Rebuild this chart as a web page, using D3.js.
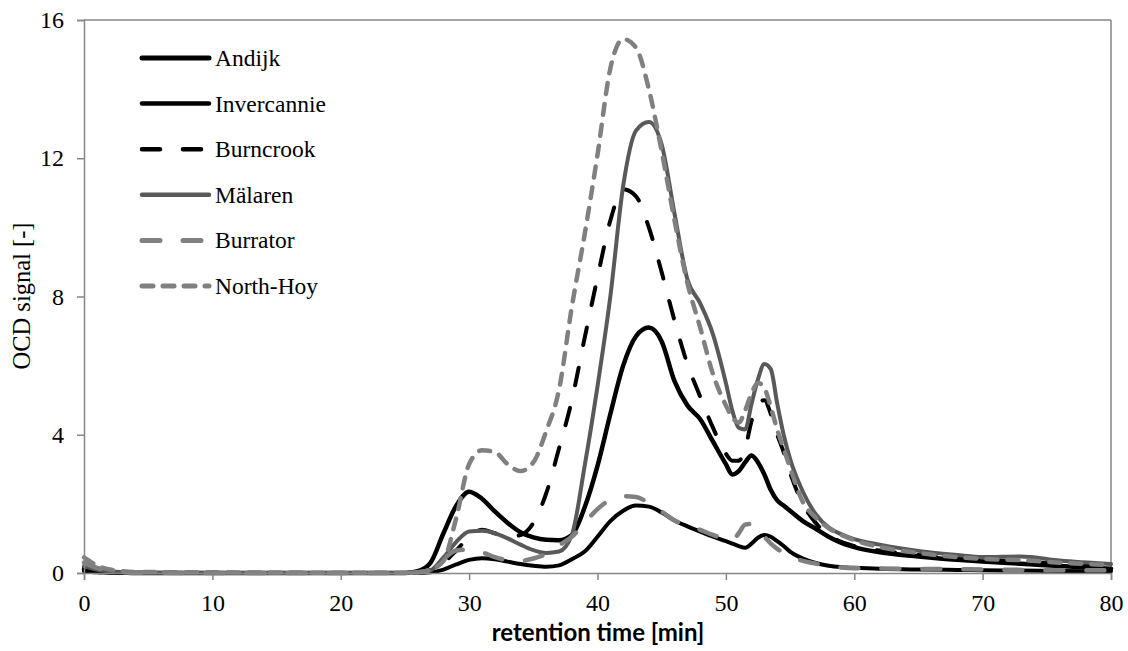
<!DOCTYPE html>
<html>
<head>
<meta charset="utf-8">
<script src="https://cdn.jsdelivr.net/npm/d3@7"></script>
<style>
  html, body { margin: 0; padding: 0; background: #fff; }
  svg { display: block; }
</style>
</head>
<body>
<svg id="chart" width="1128" height="651"></svg>
<script>
// ---- data ----
const times = [0,1,2,3,4,10,20,25,26,27,28,29,30,31,32,33,34,35,36,37,38,39,40,41,42,43,44,45,46,47,48,49,50,50.5,51,51.5,52,52.5,53,53.5,54,54.5,55,56,57,58,59,60,62,65,68,70,73,76,80];

const andijk = [0.1,0.05,0.02,0.01,0, 0,0,0, 0.05,0.3,1.15,1.95,2.35,2.15,1.78,1.45,1.18,1.03,0.96,0.95,1.1,1.9,3.1,4.6,6.0,6.85,7.1,6.7,5.55,4.85,4.45,3.8, 3.15,2.85,2.95,3.2,3.4,3.2,2.85,2.4,2.1,1.95,1.8, 1.5,1.28,1.05,0.87,0.75, 0.6,0.48,0.38,0.33,0.27,0.2,0.12];
const invercannie = [0.05,0.02,0.01,0,0, 0,0,0, 0,0.02,0.1,0.25,0.38,0.43,0.4,0.33,0.26,0.21,0.18,0.22,0.4,0.62,1.05,1.5,1.8,1.95,1.92,1.75,1.52,1.35,1.2,1.05, 0.92,0.85,0.78,0.73,0.85,1.02,1.1,1.05,0.92,0.78,0.62, 0.42,0.29,0.21,0.17,0.15, 0.12,0.1,0.09,0.08,0.07,0.06,0.05];
const burncrook = [0.15,0.08,0.04,0.02,0.01, 0,0,0, 0.02,0.1,0.3,0.65,1.05,1.25,1.15,1.05,1.1,1.45,2.3,3.6,5.0,6.8,8.55,10.2,11.1,10.9,10.0,8.7,7.3,6.05,5.1,4.2, 3.45,3.25,3.25,3.6,4.4,4.9,5.0,4.6,4.0,3.5,2.9, 2.0,1.45,1.1,0.9,0.78, 0.65,0.52,0.43,0.39,0.33,0.26,0.18];
const malaren = [0.2,0.1,0.05,0.02,0.01, 0,0,0, 0.02,0.08,0.45,0.9,1.2,1.22,1.15,1.0,0.82,0.66,0.58,0.62,1.1,3.1,5.4,8.0,11.2,12.8,13.05,12.4,10.4,8.5,7.8,6.9, 5.5,4.7,4.2,4.15,4.9,5.6,6.05,5.9,4.9,4.0,3.3, 2.35,1.7,1.32,1.12,0.98, 0.82,0.64,0.52,0.46,0.48,0.36,0.26];
const burrator = [0.3,0.15,0.06,0.03,0.01, 0,0,0, 0.02,0.1,0.4,0.65,0.68,0.6,0.46,0.37,0.35,0.42,0.55,0.8,1.05,1.45,1.85,2.12,2.22,2.2,2.02,1.78,1.52,1.38,1.25,1.1, 0.98,0.95,1.15,1.4,1.42,1.25,1.05,0.85,0.7,0.58,0.48, 0.35,0.27,0.2,0.16,0.14, 0.13,0.12,0.11,0.1,0.09,0.08,0.08];
const northHoy = [0.45,0.22,0.1,0.05,0.03, 0.02,0.01,0.01, 0.02,0.1,0.35,1.6,3.15,3.55,3.5,3.15,2.95,3.2,4.1,5.3,7.7,9.8,12.1,14.6,15.45,15.2,14.0,12.2,10.2,8.4,7.1,5.75, 4.85,4.5,4.35,4.7,5.2,5.5,5.35,4.8,4.15,3.6,3.05, 2.05,1.6,1.3,1.1,0.95, 0.75,0.58,0.46,0.41,0.37,0.3,0.23];

const seriesNames = ["Andijk","Invercannie","Burncrook","Mälaren","Burrator","North-Hoy"];
const seriesValues = [andijk, invercannie, burncrook, malaren, burrator, northHoy];
const xTicks = [0,10,20,30,40,50,60,70,80];
const yTicks = [0,4,8,12,16];
const xTitle = "retention time [min]";
const yTitle = "OCD signal [-]";

// ---- styles ----
const styles = [
  {color:"#000000", width:4.5, dash:null},
  {color:"#000000", width:4,   dash:null},
  {color:"#000000", width:4,   dash:"18,23"},
  {color:"#595959", width:4,   dash:null},
  {color:"#808080", width:4.5, dash:"18,23"},
  {color:"#808080", width:4.5, dash:"11,10"}
];

const svg = d3.select("#chart");
const x = d3.scaleLinear().domain([0,80]).range([84,1111]);
const y = d3.scaleLinear().domain([0,16]).range([573,20]);
const axisColor = "#868686";
const serif = "'Liberation Serif', 'Times New Roman', serif";

// frame (top & right)
svg.append("line").attr("x1",x(0)).attr("x2",x(80)).attr("y1",y(16)).attr("y2",y(16))
  .attr("stroke",axisColor).attr("stroke-width",1.5);
svg.append("line").attr("x1",x(80)).attr("x2",x(80)).attr("y1",y(16)).attr("y2",y(0))
  .attr("stroke",axisColor).attr("stroke-width",1.5);

// series
const line = d3.line().x((d,i)=>x(times[i])).y(d=>y(d)).curve(d3.curveMonotoneX);
seriesValues.forEach((vals,k)=>{
  const st = styles[k];
  const p = svg.append("path").datum(vals).attr("d",line)
    .attr("fill","none").attr("stroke",st.color).attr("stroke-width",st.width)
    .attr("stroke-linejoin","round").attr("stroke-linecap","round");
  if (st.dash) p.attr("stroke-dasharray",st.dash);
});

// axes
const xAxis = svg.append("g").attr("transform",`translate(0,${y(0)})`)
  .call(d3.axisBottom(x).tickValues(xTicks).tickSize(7).tickPadding(14).tickFormat(d3.format("d")));
const yAxis = svg.append("g").attr("transform",`translate(${x(0)},0)`)
  .call(d3.axisLeft(y).tickValues(yTicks).tickSize(7).tickPadding(13).tickFormat(d3.format("d")));
[xAxis,yAxis].forEach(g=>{
  g.attr("font-family",null).attr("font-size",null);
  g.select(".domain").attr("stroke",axisColor).attr("stroke-width",1.5);
  g.selectAll(".tick line").attr("stroke",axisColor).attr("stroke-width",1.5);
  g.selectAll(".tick text").attr("fill","#000").style("font-family",serif).style("font-size","24px");
});

// axis titles
svg.append("text").attr("x",598).attr("y",641).attr("text-anchor","middle")
  .style("font-family","Lato, 'Open Sans', sans-serif").style("font-weight","bold").style("font-size","24px")
  .text(xTitle);
svg.append("text").attr("transform","translate(30,296) rotate(-90)").attr("text-anchor","middle")
  .style("font-family",serif).style("font-size","24.5px").text(yTitle);

// legend
const legY0 = 58, legStep = 45.6;
seriesNames.forEach((name,k)=>{
  const st = styles[k];
  const yy = legY0 + k*legStep;
  const l = svg.append("line").attr("x1",142).attr("x2",209).attr("y1",yy).attr("y2",yy)
    .attr("stroke",st.color).attr("stroke-width",st.width+0.5).attr("stroke-linecap","round");
  if (st.dash) l.attr("stroke-dasharray",st.dash);
  svg.append("text").attr("x",215).attr("y",yy+8).style("font-family",serif).style("font-size","23.5px")
    .attr("fill","#000").text(name);
});
</script>
</body>
</html>
